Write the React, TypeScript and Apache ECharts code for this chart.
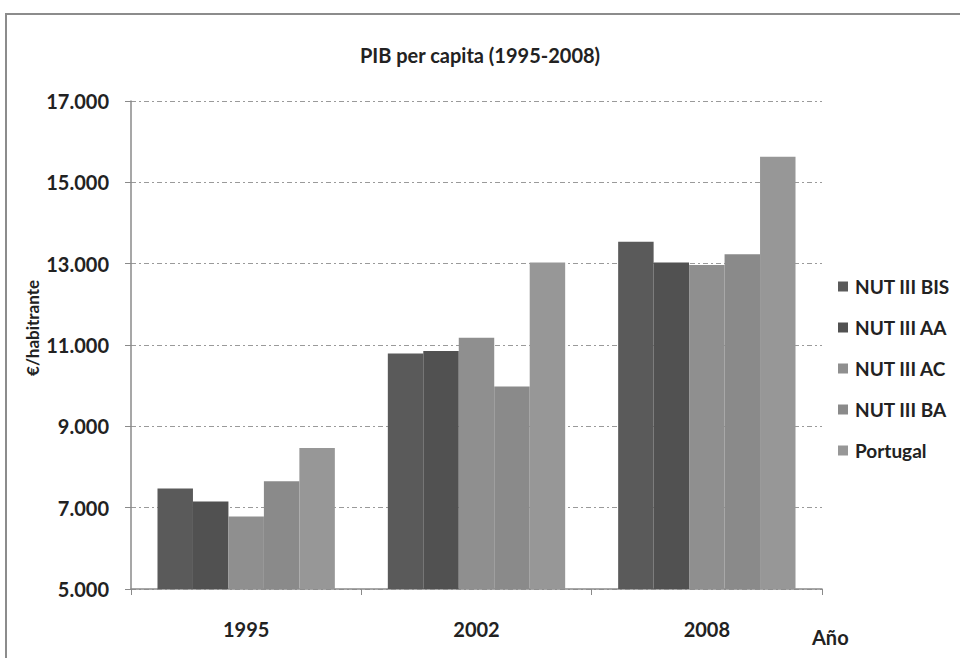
import React, { useEffect, useRef } from "react";
import * as echarts from "echarts";

const categories = ["1995", "2002", "2008"];
const seriesNames = ["NUT III BIS", "NUT III AA", "NUT III AC", "NUT III BA", "Portugal"];
const nutBIS = [7470, 10790, 13540];
const nutAA = [7150, 10850, 13030];
const nutAC = [6780, 11180, 12970];
const nutBA = [7650, 9980, 13230];
const portugal = [8470, 13030, 15630];
const seriesValues = [nutBIS, nutAA, nutAC, nutBA, portugal];
const seriesColors = ["#5a5a5a", "#515151", "#8f8f8f", "#8a8a8a", "#979797"];

const FONT = "Lato, 'Open Sans', sans-serif";

export default function App() {
  const ref = useRef<HTMLDivElement>(null);
  useEffect(() => {
    if (!ref.current) return;
    const chart = echarts.init(ref.current, undefined, { renderer: "svg" });
    chart.setOption({
      animation: false,
      backgroundColor: "#ffffff",
      textStyle: { fontFamily: FONT },
      title: {
        text: "PIB per capita (1995-2008)",
        left: "center",
        top: 40,
        padding: [5, 5, 5, 15],
        textStyle: { fontFamily: FONT, fontWeight: "bold", fontSize: 20, color: "#222" },
      },
      legend: {
        orient: "vertical",
        left: 833,
        top: 271,
        itemWidth: 10,
        itemHeight: 10,
        itemGap: 20,
        icon: "rect",
        data: seriesNames,
        textStyle: {
          fontFamily: FONT,
          fontWeight: "bold",
          fontSize: 19,
          color: "#222",
          lineHeight: 21,
          padding: [0, 0, 0, 2],
        },
      },
      grid: { left: 131, top: 101, right: 138, bottom: 69, containLabel: false },
      xAxis: {
        type: "category",
        data: categories,
        axisLine: { lineStyle: { color: "#8a8a8a", width: 1.5 } },
        axisTick: { show: true, length: 6, lineStyle: { color: "#8a8a8a" } },
        axisLabel: { margin: 30, fontFamily: FONT, fontWeight: "bold", fontSize: 20, color: "#222" },
      },
      yAxis: {
        type: "value",
        min: 5000,
        max: 17000,
        interval: 2000,
        axisLine: { show: true, lineStyle: { color: "#8a8a8a", width: 1.5 } },
        axisTick: { show: true, length: 6, lineStyle: { color: "#8a8a8a" } },
        splitLine: { lineStyle: { color: "#9a9a9a", type: [5, 3, 2, 3], width: 1 } },
        axisLabel: {
          margin: 22,
          fontFamily: FONT,
          fontWeight: "bold",
          fontSize: 20,
          color: "#222",
          formatter: (v: number) => v.toLocaleString("de-DE"),
        },
      },
      series: seriesNames.map((name, i) => ({
        name,
        type: "bar",
        data: seriesValues[i],
        barGap: "0%",
        barCategoryGap: "23%",
        itemStyle: { color: seriesColors[i] },
      })),
      graphic: [
        {
          type: "rect",
          shape: { x: 6, y: 14, width: 1000, height: 700 },
          style: { fill: "none", stroke: "#8c8c8c", lineWidth: 2 },
          silent: true,
        },
        {
          type: "text",
          x: 32,
          y: 328,
          rotation: Math.PI / 2,
          style: {
            text: "€/habitrante",
            fontFamily: FONT,
            fontWeight: "bold",
            fontSize: 17,
            fill: "#222",
            align: "center",
            verticalAlign: "middle",
          },
        },
        {
          type: "text",
          x: 812,
          y: 637,
          style: {
            text: "Año",
            fontFamily: FONT,
            fontWeight: "bold",
            fontSize: 20,
            fill: "#222",
            align: "left",
            verticalAlign: "middle",
          },
        },
      ],
    });
    return () => chart.dispose();
  }, []);
  return <div ref={ref} style={{ width: 960, height: 658, position: "absolute", left: 0, top: 0 }} />;
}
